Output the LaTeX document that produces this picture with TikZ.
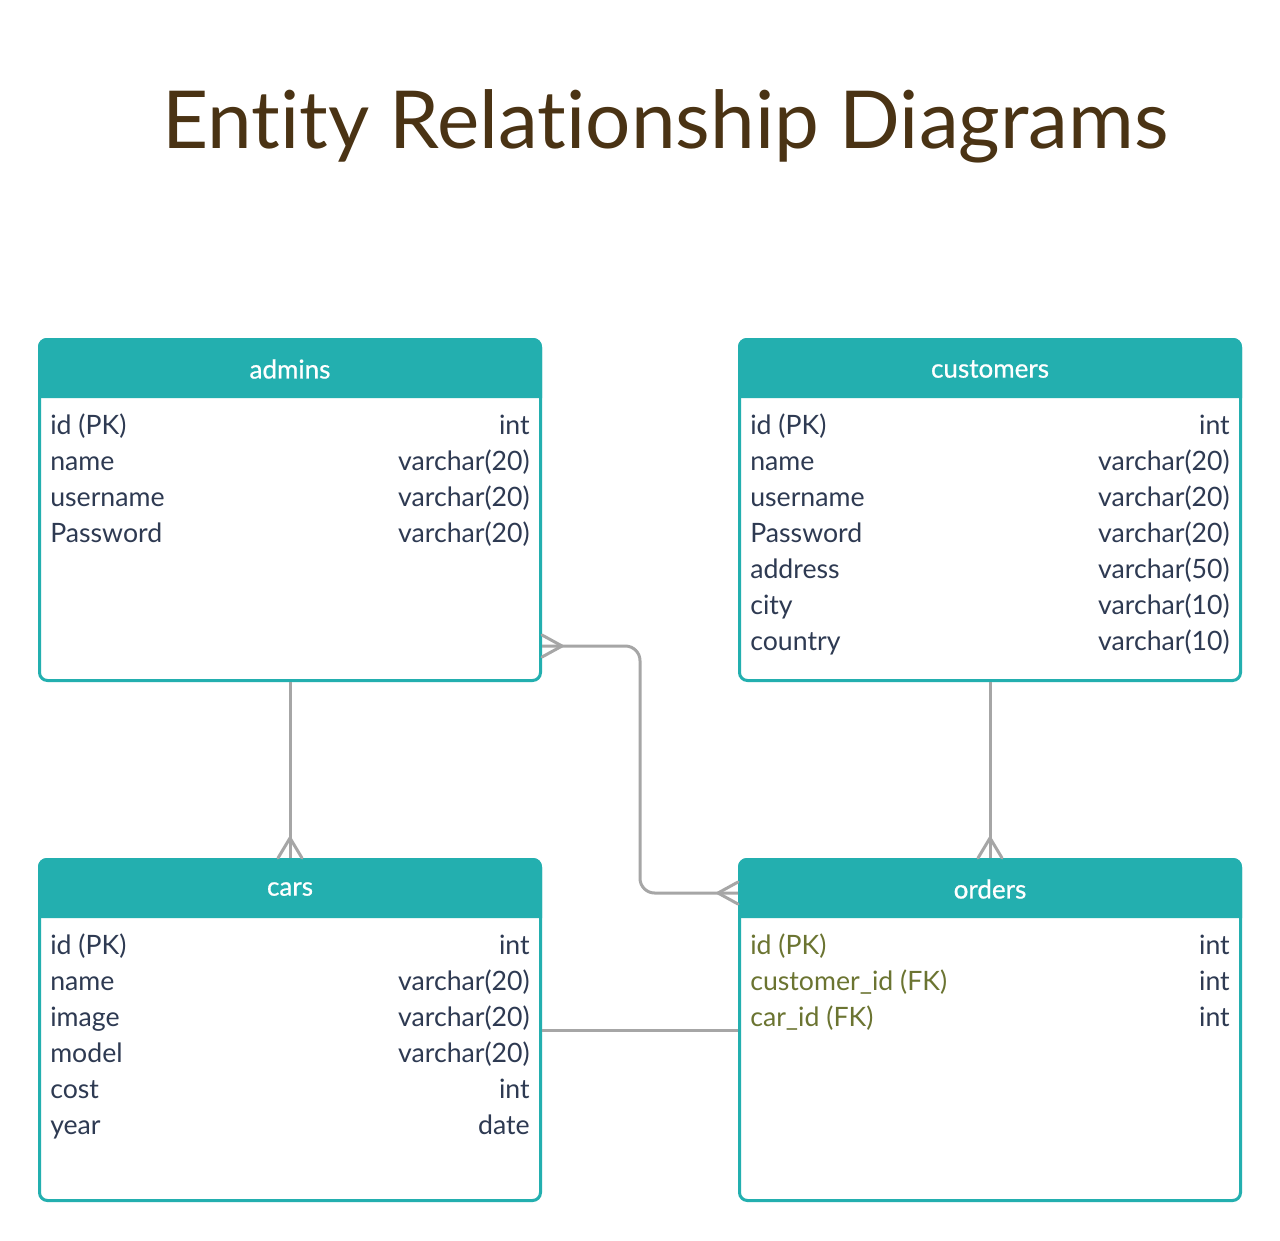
\documentclass[tikz,border=0pt]{standalone}
\usepackage{fontspec}
\setmainfont{Lato}[Ligatures={NoCommon}]
\newfontfamily\hdrfont{Lato}[FakeBold=0.7,Ligatures={NoCommon}]
\definecolor{teal1}{HTML}{23AFAF}
\definecolor{txt}{HTML}{2E3A52}
\definecolor{fk}{HTML}{6B7431}
\definecolor{ttl}{HTML}{4A3314}
\definecolor{lnk}{HTML}{A6A6A6}
\newcommand\ERtable[6]{%
  \node[tbl, anchor=north west] (#1) at (#2,#3) {};
  \fill[teal1] (#2,#3+60) [rounded corners=6.5pt] -- (#2,#3) -- (#2+504,#3) [sharp corners] -- (#2+504,#3+60) -- cycle;
  \node[hdr] (#1-title) at (#2+252,#3+31) {#4};
  \foreach \l/\r [count=\i from 0] in {#6} {
    \node[row, text=#5, anchor=base west] (#1-l\i) at (#2+12, #3+96+36*\i) {\l};
    \node[row, anchor=base east] (#1-r\i) at (#2+492, #3+96+36*\i) {\r};
  }
}
\begin{document}
\begin{tikzpicture}[x=0.75pt,y=-0.75pt,
  tbl/.style={draw=teal1, line width=2.25pt, rounded corners=6pt, minimum width=375.75pt, minimum height=255.75pt, inner sep=0pt, fill=white},
  hdr/.style={text=white, font=\hdrfont\fontsize{19.5}{22}\selectfont},
  row/.style={text=txt, font=\fontsize{20}{23}\selectfont, inner sep=0pt},
  link/.style={draw=lnk, line width=2.25pt},
  foot/.style={draw=lnk, line width=2.25pt, line cap=round, line join=round}
]
\fill[white] (0,0) rectangle (1280,1240);
\useasboundingbox (0,0) rectangle (1280,1240);
\node[font=\fontsize{60}{66}\selectfont, text=ttl, anchor=base, inner sep=0pt] (title) at (665.5,148) {Entity Relationship Diagrams};

\ERtable{admins}{38}{338}{admins}{txt}{id (PK)/int, name/varchar(20), username/varchar(20), Password/varchar(20)}
\ERtable{customers}{738}{338}{customers}{txt}{id (PK)/int, name/varchar(20), username/varchar(20), Password/varchar(20), address/varchar(50), city/varchar(10), country/varchar(10)}
\ERtable{cars}{38}{858}{cars}{txt}{id (PK)/int, name/varchar(20), image/varchar(20), model/varchar(20), cost/int, year/date}
\ERtable{orders}{738}{858}{orders}{fk}{id (PK)/int, customer\_id (FK)/int, car\_id (FK)/int}

% admins -> cars
\draw[link] (admins.south) -- (cars.north);
\draw[foot] ([xshift=-9pt]cars.north) -- ([yshift=15pt]cars.north) -- ([xshift=9pt]cars.north);
% customers -> orders
\draw[link] (customers.south) -- (orders.north);
\draw[foot] ([xshift=-9pt]orders.north) -- ([yshift=15pt]orders.north) -- ([xshift=9pt]orders.north);
% admins -> orders
\path (admins.east) ++(0,136) coordinate (a1);
\path (orders.west) ++(0,-137) coordinate (o1);
\draw[link, rounded corners=11pt] (a1) -- (a1 -| 640,0) -- (o1 -| 640,0) -- (o1);
\draw[foot] ([yshift=8.25pt]a1) -- ([xshift=15pt]a1) -- ([yshift=-8.25pt]a1);
\draw[foot] ([yshift=8.25pt]o1) -- ([xshift=-15pt]o1) -- ([yshift=-8.25pt]o1);
% cars -> orders
\draw[link] (cars.east) -- (orders.west);
\end{tikzpicture}
\end{document}
